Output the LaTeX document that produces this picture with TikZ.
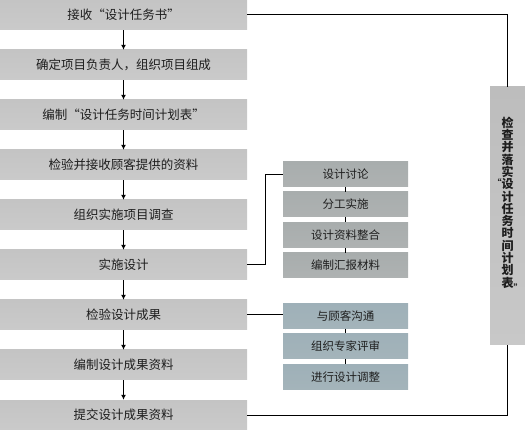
\documentclass[tikz,border=0pt]{standalone}
\usepackage{fontspec}
\setmainfont{Noto Sans CJK SC}
\usetikzlibrary{arrows.meta,calc}
\definecolor{mtop}{HTML}{C4C4C4}
\definecolor{mmid}{HTML}{E2E2E2}
\definecolor{mbot}{HTML}{CACACA}
\definecolor{atop}{HTML}{A8ADAD}
\definecolor{amid}{HTML}{C6CACA}
\definecolor{abot}{HTML}{AEB2B2}
\definecolor{btop}{HTML}{9EB0B8}
\definecolor{bmid}{HTML}{BCCACF}
\definecolor{bbot}{HTML}{A4B4BA}
\definecolor{bartop}{HTML}{BDBDBD}
\definecolor{barbot}{HTML}{C8C8C8}
\definecolor{txt}{HTML}{1E1E1E}
\begin{document}
\begin{tikzpicture}[x=1pt,y=-1pt,
  mainbox/.style={rectangle,minimum width=247pt,minimum height=30pt,inner sep=0pt,
    shading=axis,top color=mtop,middle color=mmid,bottom color=mbot,
    font=\fontsize{12.5}{14}\selectfont,text=txt},
  subA/.style={rectangle,minimum width=125pt,minimum height=25pt,inner sep=0pt,
    shading=axis,top color=atop,middle color=amid,bottom color=abot,
    font=\fontsize{11.5}{13}\selectfont,text=txt},
  subB/.style={subA,top color=btop,middle color=bmid,bottom color=bbot},
  flow/.style={line width=1pt,-{Latex[length=5pt,width=5pt]}},
  link/.style={line width=1pt},
]
\useasboundingbox (0,0) rectangle (525,430);
% main boxes
\node[mainbox] (m1) at (123.5,15) {接收“设计任务书”};
\node[mainbox] (m2) at (123.5,65) {确定项目负责人，组织项目组成};
\node[mainbox] (m3) at (123.5,115) {编制“设计任务时间计划表”};
\node[mainbox] (m4) at (123.5,165) {检验并接收顾客提供的资料};
\node[mainbox] (m5) at (123.5,215) {组织实施项目调查};
\node[mainbox] (m6) at (123.5,265) {实施设计};
\node[mainbox] (m7) at (123.5,315) {检验设计成果};
\node[mainbox] (m8) at (123.5,365) {编制设计成果资料};
\node[mainbox] (m9) at (123.5,415) {提交设计成果资料};
\foreach \a/\b in {m1/m2,m2/m3,m3/m4,m4/m5,m5/m6,m6/m7,m7/m8,m8/m9}
  \draw[flow] (\a.south) -- (\b.north);
% sub group A
\node[subA] (a1) at (345.5,174.5) {设计讨论};
\node[subA] (a2) at (345.5,204.5) {分工实施};
\node[subA] (a3) at (345.5,235) {设计资料整合};
\node[subA] (a4) at (345.5,265.5) {编制汇报材料};
\foreach \a/\b in {a1/a2,a2/a3,a3/a4}
  \draw[link] (\a.south) -- (\b.north);
\coordinate (ja) at (265,265);
\draw[link] (m6.east) -- (ja) |- (a1.west);
% sub group B
\node[subB] (b1) at (345.5,316) {与顾客沟通};
\node[subB] (b2) at (345.5,346) {组织专家评审};
\node[subB] (b3) at (345.5,377) {进行设计调整};
\foreach \a/\b in {b1/b2,b2/b3}
  \draw[link] (\a.south) -- (\b.north);
\draw[link] (m7.east) -- (b1.west |- m7.east);
% side bar
\node[rectangle,minimum width=35pt,minimum height=258pt,inner sep=0pt,
  shading=axis,top color=bartop,bottom color=barbot] (bar) at (507.5,216) {};
\node[align=center,text=txt,font=\bfseries\fontsize{12}{12.3}\selectfont,inner sep=0pt] (bt) at (507.5,204)
  {检\\查\\并\\落\\实\\\llap{\raisebox{2pt}{\fontsize{9}{9}\selectfont “}}设\\计\\任\\务\\时\\间\\计\\划\\表\rlap{\raisebox{-4pt}{\fontsize{9}{9}\selectfont ”}}};
\draw[link] (m1.east) -| (bar.north);
\draw[link] (bar.south) |- (m9.east);
\end{tikzpicture}
\end{document}
